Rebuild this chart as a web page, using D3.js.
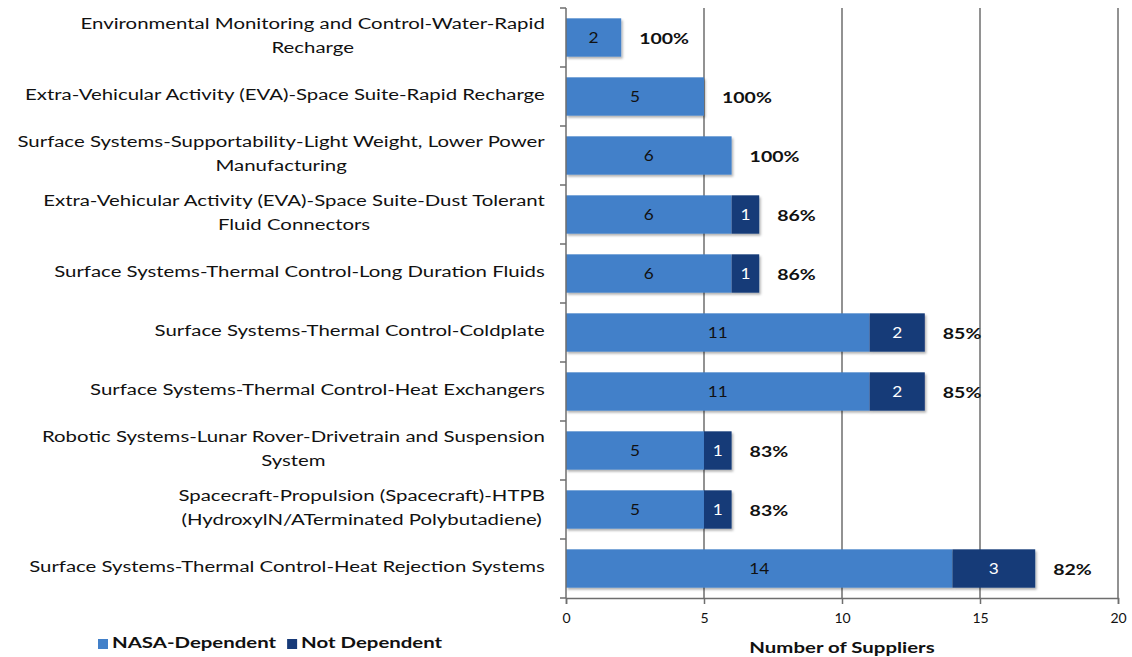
<!DOCTYPE html>
<html>
<head>
<meta charset="utf-8">
<script src="https://cdn.jsdelivr.net/npm/d3@7"></script>
<style>
  body { margin: 0; background: #fff; }
  text { font-family: Lato, "Open Sans", sans-serif; }
</style>
</head>
<body>
<div id="chart"></div>
<script>
// Supplier dependency by technology area, stacked horizontal bars

const categories = [
  'Environmental Monitoring and Control-Water-Rapid\nRecharge',
  'Extra-Vehicular Activity (EVA)-Space Suite-Rapid Recharge',
  'Surface Systems-Supportability-Light Weight, Lower Power\nManufacturing',
  'Extra-Vehicular Activity (EVA)-Space Suite-Dust Tolerant\nFluid Connectors',
  'Surface Systems-Thermal Control-Long Duration Fluids',
  'Surface Systems-Thermal Control-Coldplate',
  'Surface Systems-Thermal Control-Heat Exchangers',
  'Robotic Systems-Lunar Rover-Drivetrain and Suspension\nSystem',
  'Spacecraft-Propulsion (Spacecraft)-HTPB\n(HydroxylN/ATerminated Polybutadiene)',
  'Surface Systems-Thermal Control-Heat Rejection Systems'
];
const nasaDependent = [2, 5, 6, 6, 6, 11, 11, 5, 5, 14];
const notDependent = [0, 0, 0, 1, 1, 2, 2, 1, 1, 3];
const percentLabels = ['100%', '100%', '100%', '86%', '86%', '85%', '85%', '83%', '83%', '82%'];
const seriesNames = ['NASA-Dependent', 'Not Dependent'];
const xTicks = [0, 5, 10, 15, 20];

const width = 1132;
const height = 657;
const margin = { top: 8, right: 14, bottom: 59, left: 566 };
const SX = 1.36; // the original's lettering is horizontally stretched

const colors = { 'NASA-Dependent': '#4280c9', 'Not Dependent': '#173a78' };

const svg = d3.select('#chart')
  .append('svg')
  .attr('width', width)
  .attr('height', height);

// put text at (X, Y) with a horizontal stretch
function place(sel, X, Y, s = SX) {
  return sel.attr('x', 0).attr('y', 0)
    .attr('transform', `translate(${X},${Y}) scale(${s},1)`);
}

const x = d3.scaleLinear()
  .domain([0, 20])
  .range([margin.left, width - margin.right]);

const y = d3.scaleBand()
  .domain(d3.range(categories.length))
  .range([margin.top, height - margin.bottom])
  .paddingInner(0.35)
  .paddingOuter(0.175);

// gridlines
svg.append('g')
  .selectAll('line')
  .data(xTicks.filter(t => t > 0))
  .join('line')
  .attr('x1', d => x(d)).attr('x2', d => x(d))
  .attr('y1', margin.top).attr('y2', height - margin.bottom)
  .attr('stroke', '#6e6e6e')
  .attr('stroke-width', 1.5);

// stacked data
const rows = categories.map((c, i) => ({
  i,
  label: c,
  stack: [
    { key: seriesNames[0], x0: 0, x1: nasaDependent[i], v: nasaDependent[i] },
    { key: seriesNames[1], x0: nasaDependent[i], x1: nasaDependent[i] + notDependent[i], v: notDependent[i] }
  ],
  total: nasaDependent[i] + notDependent[i],
  pct: percentLabels[i]
}));

// drop shadow like Excel
const defs = svg.append('defs');
const f = defs.append('filter').attr('id', 'shadow').attr('x', '-5%').attr('y', '-20%').attr('width', '120%').attr('height', '160%');
f.append('feDropShadow').attr('dx', 1.5).attr('dy', 2).attr('stdDeviation', 1.2).attr('flood-color', '#000').attr('flood-opacity', 0.3);

const rowG = svg.append('g')
  .selectAll('g')
  .data(rows)
  .join('g');

rowG.selectAll('rect')
  .data(d => d.stack.filter(s => s.v > 0).map(s => ({ ...s, i: d.i })))
  .join('rect')
  .attr('x', d => x(d.x0))
  .attr('y', d => y(d.i))
  .attr('width', d => x(d.x1) - x(d.x0))
  .attr('height', y.bandwidth())
  .attr('fill', d => colors[d.key])
  .attr('filter', 'url(#shadow)');

rowG.selectAll('text.val')
  .data(d => d.stack.filter(s => s.v > 0).map(s => ({ ...s, i: d.i })))
  .join('text')
  .attr('class', 'val')
  .each(function (d) {
    place(d3.select(this), (x(d.x0) + x(d.x1)) / 2, y(d.i) + y.bandwidth() / 2 + 2, 1.15);
  })
  .attr('text-anchor', 'middle')
  .attr('dominant-baseline', 'middle')
  .attr('fill', d => d.key === 'Not Dependent' ? '#fff' : '#111')
  .style('font-size', '15px')
  .text(d => d.v);

// percent labels
rowG.append('text')
  .each(function (d) {
    place(d3.select(this), x(d.total) + 18, y(d.i) + y.bandwidth() / 2 + 3, 1.3);
  })
  .attr('dominant-baseline', 'middle')
  .attr('fill', '#111')
  .style('font-size', '15px')
  .style('font-weight', 'bold')
  .text(d => d.pct);

// y axis
svg.append('line')
  .attr('x1', margin.left).attr('x2', margin.left)
  .attr('y1', margin.top).attr('y2', height - margin.bottom)
  .attr('stroke', '#6e6e6e').attr('stroke-width', 1.5);

const step = y.step();
svg.append('g')
  .selectAll('line')
  .data(d3.range(categories.length + 1))
  .join('line')
  .attr('x1', margin.left - 6).attr('x2', margin.left)
  .attr('y1', i => margin.top + i * step)
  .attr('y2', i => margin.top + i * step)
  .attr('stroke', '#6e6e6e').attr('stroke-width', 1.5);

// category labels, wrapped lines centred on each other and right-aligned
const labelRight = 545;
const lineH = 24;
rowG.each(function (d) {
  const lines = d.label.split('\n');
  const g = d3.select(this).append('g');
  const texts = lines.map(ln => g.append('text')
    .attr('dominant-baseline', 'middle')
    .attr('text-anchor', 'middle')
    .attr('fill', '#111')
    .style('font-size', '15px')
    .text(ln));
  const maxW = d3.max(texts, t => t.node().getComputedTextLength()) * SX;
  texts.forEach((t, k) => place(t, labelRight - maxW / 2,
    y(d.i) + y.bandwidth() / 2 + (k - (lines.length - 1) / 2) * lineH));
});

// x axis
const xAxis = svg.append('g')
  .attr('transform', `translate(0, ${height - margin.bottom})`)
  .call(d3.axisBottom(x).tickValues(xTicks).tickSize(6).tickPadding(9));
xAxis.select('.domain').attr('stroke', '#6e6e6e').attr('stroke-width', 1.5);
xAxis.selectAll('.tick line').attr('stroke', '#6e6e6e').attr('stroke-width', 1.5);
xAxis.selectAll('.tick text')
  .style('font-size', '14px')
  .style('font-family', 'Lato, sans-serif')
  .attr('fill', '#111');

place(svg.append('text'), (x(0) + x(20)) / 2, height - 4)
  .attr('text-anchor', 'middle')
  .style('font-size', '15px')
  .style('font-weight', 'bold')
  .attr('fill', '#111')
  .text('Number of Suppliers');

// legend
const legend = svg.append('g').attr('transform', 'translate(98, 644)');
let lx = 0;
seriesNames.forEach(name => {
  const item = legend.append('g').attr('transform', `translate(${lx}, 0)`);
  item.append('rect')
    .attr('x', 0).attr('y', -5)
    .attr('width', 10).attr('height', 10)
    .attr('fill', colors[name]);
  const t = place(item.append('text'), 14, 0)
    .attr('dominant-baseline', 'middle')
    .style('font-size', '15px')
    .style('font-weight', 'bold')
    .attr('fill', '#111')
    .text(name);
  lx += 14 + t.node().getComputedTextLength() * SX + 11;
});
</script>
</body>
</html>
